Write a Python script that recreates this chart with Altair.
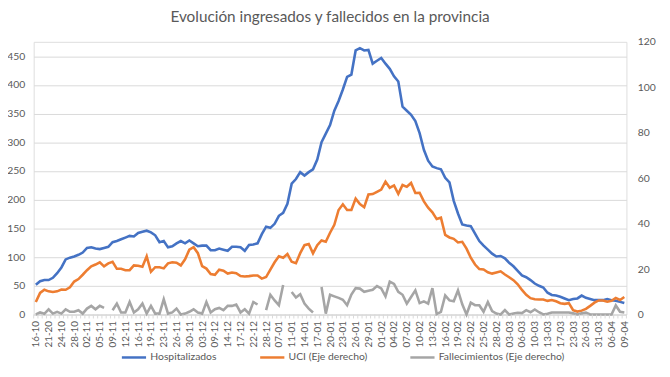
import json
import altair as alt
import pandas as pd

etiquetas = ["16-10", "21-20", "24-10", "28-10", "02-11", "05-11", "09-11", "12-11", "16-11", "19-11",
             "23-11", "26-11", "30-11", "03-12", "09-12", "14-12", "17-12", "22-12", "28-12", "07-01",
             "11-01", "14-01", "17-01", "20-01", "23-01", "26-01", "29-01", "01-02", "04-02", "07-02",
             "10-02", "13-02", "16-02", "19-02", "22-02", "25-02", "28-02", "03-03", "06-03", "10-03",
             "13-03", "17-03", "23-03", "26-03", "31-03", "06-04", "09-04"]

hospitalizados = [52, 58, 60, 60, 64, 72, 82, 96, 99, 101,
                  104, 108, 116, 117, 115, 114, 116, 118, 126, 128,
                  131, 134, 137, 136, 142, 144, 146, 143, 138, 126,
                  128, 117, 119, 124, 128, 124, 129, 124, 119, 120,
                  120, 112, 112, 115, 113, 111, 118, 118, 117, 111,
                  121, 122, 124, 140, 153, 151, 158, 172, 177, 193,
                  228, 236, 248, 242, 248, 253, 270, 300, 315, 330,
                  355, 372, 392, 414, 418, 460, 464, 460, 461, 437,
                  442, 447, 437, 428, 415, 406, 362, 355, 348, 337,
                  316, 287, 268, 258, 255, 253, 238, 230, 198, 176,
                  157, 155, 154, 141, 128, 120, 113, 106, 101, 102,
                  98, 90, 84, 76, 68, 65, 60, 54, 50, 47,
                  38, 34, 33, 31, 28, 25, 27, 28, 33, 29,
                  27, 25, 25, 25, 27, 25, 24, 22, 20]

uci = [5.5, 9.5, 10.9, 10.2, 9.9, 10.2, 11, 10.9, 12, 14.5,
       15.6, 17.5, 19.5, 21.2, 22, 23, 21.2, 22.5, 23.2, 20.1,
       20.1, 19.5, 19.5, 21.6, 21.5, 21, 25.6, 18.8, 20.8, 20.8,
       20.3, 22.5, 23, 22.8, 21.6, 24.3, 28.5, 29.6, 27, 21.3,
       20.2, 17.8, 17.5, 19.7, 19.3, 18, 18.5, 18.2, 16.9, 16.7,
       16.9, 17.2, 17.2, 15.8, 16.5, 19.8, 23, 25.6, 25, 26.6,
       23.2, 22.6, 27, 30.5, 31, 26.9, 30.5, 32.6, 32, 36,
       39.5, 46, 48.5, 46, 46, 51, 48.6, 47.2, 52.8, 53,
       54, 55, 58.5, 55.8, 56.8, 53.1, 57, 56.2, 57.9, 53.5,
       53.6, 49.8, 47, 45, 42, 42.6, 35, 33.9, 33.3, 31.7,
       32, 29, 25, 22, 20, 19.8, 18.6, 18, 18.5, 19,
       17.6, 16.4, 15.1, 13.3, 10.8, 8.7, 7.2, 6.7, 6.6, 6.6,
       6, 6.4, 5.8, 5, 4.7, 5, 1.9, 1.3, 1.7, 2.5,
       3.8, 5.2, 6.2, 6.2, 5.6, 6, 7.3, 6.4, 7.7]

fallecimientos = [0, 0.9, 0.3, 2.3, 0.4, 1.2, 0.4, 2.3, 1.2, 1.2,
                  1.9, 0.4, 2.6, 3.8, 2.3, 3.8, 2.9, None, 1.9, 4.8,
                  0.9, 0.9, 5.5, 0.9, 2.3, 4.8, 0.4, 3.8, 0.4, 0.4,
                  6.7, 0.4, 0.9, 2.6, 0, 0.4, 1.2, 2.3, 0.9, 0.4,
                  5.5, 0.9, 2.3, 2.9, 1.9, 3.8, 3.8, 4.4, 0.9, 2.3,
                  0.4, 5.5, 4.4, None, 1.9, 8.7, 6.2, 4.1, 13, None,
                  9.9, 7.5, 8.9, 4.8, 2.6, 0.9, None, 12.1, 0.4, 8.7,
                  8, 7.3, 6.5, 4.1, 8.8, 11.6, 11.4, 10, 10.5, 10.9,
                  12.5, 11.5, 8, 14.5, 13.5, 10, 8.7, 4.8, 7.7, 10.6,
                  5, 5.8, 4.8, 11.6, 0.2, 1.2, 8.4, 6.2, 5.8, 10.6,
                  4.5, 0, 5.2, 4.1, 4.1, 1.2, 5.5, 1.5, 0.4, 0,
                  1.9, 0, 0.4, 0.8, 0.6, 1.9, 1, 2.2, 1, 0,
                  0.3, 0.9, 0.9, 0.9, 0.9, 0.9, 0.5, 0, 0.5, 0.8,
                  0, 0, 0, 0, 0, 0, 4, 1.2, 0.9]

series = ["Hospitalizados", "UCI (Eje derecho)", "Fallecimientos (Eje derecho)"]
colores = ["#4472C4", "#ED7D31", "#A5A5A5"]

n = len(hospitalizados)
rows = []
for nombre, vals in zip(series, [hospitalizados, uci, fallecimientos]):
    for i, v in enumerate(vals):
        rows.append({"i": i, "serie": nombre, "valor": v})
df = pd.DataFrame(rows)

bordes = pd.DataFrame({"i": [k - 0.5 for k in range(n + 1)]})

FONT = "Lato"
GRIS = "#595959"

xscale = alt.Scale(domain=[-0.5, n - 0.5], nice=False, zero=False)
label_expr = json.dumps(etiquetas) + "[round(datum.value / 3)]"

color = alt.Color(
    "serie:N",
    scale=alt.Scale(domain=series, range=colores),
    sort=series,
    legend=alt.Legend(
        title=None, orient="none", legendX=88, legendY=306, direction="horizontal",
        symbolType="stroke", symbolStrokeWidth=2.5, symbolSize=600,
        labelFont=FONT, labelFontSize=10.5, labelColor=GRIS,
        columnPadding=38, labelOffset=3, labelLimit=300,
    ),
)

xaxis = alt.Axis(
    values=list(range(0, n, 3)), labelExpr=label_expr, labelAngle=270,
    ticks=False, grid=False, domainColor="#d9d9d9", labelFont=FONT,
    labelFontSize=10, labelColor=GRIS, labelPadding=6, title=None,
)

X = alt.X("i:Q", scale=xscale, axis=xaxis)

izq = alt.Chart(df).transform_filter(
    alt.datum.serie == "Hospitalizados"
).mark_line(strokeWidth=2.6).encode(
    x=X,
    y=alt.Y("valor:Q", scale=alt.Scale(domain=[0, 475], nice=False),
            axis=alt.Axis(values=list(range(0, 451, 50)), title=None, ticks=False, domain=False,
                          gridColor="#d9d9d9", labelFont=FONT, labelFontSize=10.5,
                          labelColor=GRIS, labelPadding=9)),
    color=color,
)

der = alt.Chart(df).transform_filter(
    alt.datum.serie != "Hospitalizados"
).mark_line(strokeWidth=2.6, invalid="break-paths-filter-domains").encode(
    x=X,
    y=alt.Y("valor:Q", scale=alt.Scale(domain=[0, 120], nice=False),
            axis=alt.Axis(orient="right", values=list(range(0, 121, 20)), title=None, ticks=False,
                          domain=False, grid=False, labelFont=FONT, labelFontSize=10.5,
                          labelColor=GRIS, labelPadding=11)),
    color=color,
)

marcas = alt.Chart(bordes).mark_rule(color="#d9d9d9", strokeWidth=1).encode(
    x=X,
    y=alt.value(276),
    y2=alt.value(280),
)

chart = alt.layer(izq, der, marcas).resolve_scale(y="independent").properties(
    width=600,
    height=276,
    autosize=alt.AutoSizeParams(type="none"),
    padding={"left": 26, "top": 32, "right": 36, "bottom": 61},
    title=alt.Title("Evolución ingresados y fallecidos en la provincia", font=FONT,
                    fontSize=15.5, fontWeight="normal", color=GRIS, anchor="middle", offset=12),
).configure_view(stroke=None).configure(background="white")

chart.save("out.html", embed_options={"renderer": "svg", "actions": False})
